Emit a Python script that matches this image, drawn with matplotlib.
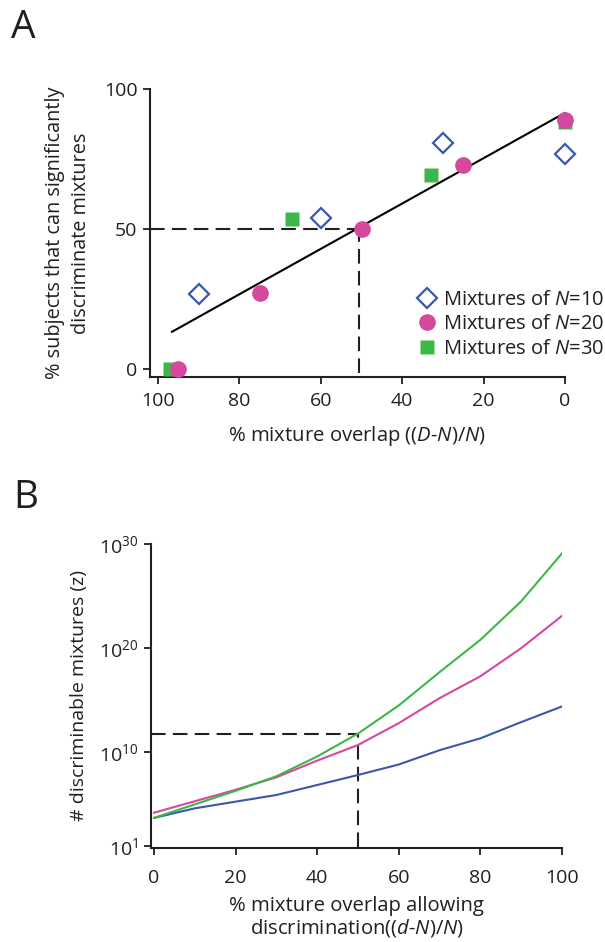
import numpy as np
import matplotlib
matplotlib.use("Agg")
import matplotlib.pyplot as plt
from matplotlib.ticker import FixedLocator, NullLocator

plt.rcParams['font.family'] = ['Open Sans', 'DejaVu Sans']
plt.rcParams['mathtext.fontset'] = 'custom'
plt.rcParams['mathtext.rm'] = 'Open Sans'
plt.rcParams['mathtext.it'] = 'Open Sans:italic'

# Panel A : % subjects discriminating vs % overlap
n10_x = [90, 60, 30, 0]
n10_y = [26.8, 53.9, 80.9, 76.9]
n20_x = [95, 75, 50, 25, 0]
n20_y = [0, 27.0, 50.0, 72.9, 88.9]
n30_x = [97, 67, 33, 0]
n30_y = [0, 53.5, 69.4, 88.4]
fit_x = [96.6, 0]
fit_y = [13.3, 91.6]
seuil_a = (50.7, 50)  # (overlap, % subjects)

# Panel B : log10 of number of discriminable mixtures
overlap = [0, 10, 20, 30, 40, 50, 60, 70, 80, 90, 100]
log_z_n10 = [3.7, 4.62, 5.26, 5.9, 6.86, 7.82, 8.83, 10.2, 11.34, 12.9, 14.4]
log_z_n20 = [4.2, 5.3, 6.4, 7.6, 9.2, 10.7, 12.8, 15.2, 17.3, 20.0, 23.1]
log_z_n30 = [3.7, 5.0, 6.3, 7.7, 9.6, 11.8, 14.5, 17.7, 20.8, 24.5, 29.1]
seuil_b = (50, 11.8)

bleu = '#3a57ab'
rose = '#d6479e'
vert = '#3db64a'
encre = '#231f20'

fig = plt.figure(figsize=(6.05, 9.42), dpi=100)

def style_axes(ax, xpad):
    for s in ['top', 'right']:
        ax.spines[s].set_visible(False)
    for s in ['left', 'bottom']:
        ax.spines[s].set_linewidth(1.5)
        ax.spines[s].set_color(encre)
    ax.tick_params(direction='out', length=5, width=1.3, labelsize=14,
                   colors=encre)
    ax.tick_params(axis='x', pad=xpad)
    ax.tick_params(axis='y', pad=4)

# ---- A ----
axA = fig.add_axes([0.2479, 0.6001, 0.6860, 0.3051])
style_axes(axA, 6)
axA.set_xlim(102, 0)
axA.set_ylim(-2.75, 100)
axA.set_xticks([100, 80, 60, 40, 20, 0])
axA.set_yticks([0, 50, 100])
axA.plot([102, seuil_a[0]], [seuil_a[1], seuil_a[1]], color=encre, lw=1.5,
         dashes=(7, 3.5))
axA.plot([seuil_a[0], seuil_a[0]], [-1.5, seuil_a[1]], color=encre, lw=1.5,
         dashes=(7, 3.5))
axA.plot(fit_x, fit_y, color='black', lw=1.5)
axA.plot(n30_x, n30_y, 's', color=vert, ms=9.5, mec='none', clip_on=False,
         label='Mixtures of $N$=30', zorder=3)
axA.plot(n20_x, n20_y, 'o', color=rose, ms=12, mec='none', clip_on=False,
         label='Mixtures of $N$=20', zorder=4)
axA.plot(n10_x, n10_y, 'D', mfc='white', mec=bleu, mew=1.6, ms=10,
         clip_on=False, label='Mixtures of $N$=10', zorder=5)
h, l = axA.get_legend_handles_labels()
axA.legend(h[::-1], l[::-1], loc='upper left',
           bbox_to_anchor=(416 / 605, 1 - 290 / 942),
           bbox_transform=fig.transFigure, frameon=False, fontsize=14.5,
           handletextpad=0.25, labelspacing=0.22, handlelength=1.1,
           borderaxespad=0, borderpad=0, labelcolor=encre)
axA.set_xlabel('% mixture overlap (($D$-$N$)/$N$)', fontsize=14.6, labelpad=10,
               color=encre)
axA.set_ylabel('% subjects that can significantly\ndiscriminate mixtures',
               fontsize=14.3, labelpad=9, linespacing=1.4, color=encre)
fig.text(0.018, 0.990, 'A', fontsize=28, va='top', ha='left', color=encre)

# ---- B ----
axB = fig.add_axes([0.2496, 0.0998, 0.6793, 0.3227])
style_axes(axB, 10)
axB.set_yscale('log')
axB.set_xlim(-0.75, 100)
axB.set_ylim(10 ** 0.81, 1e30)
axB.set_xticks([0, 20, 40, 60, 80, 100])
axB.yaxis.set_major_locator(FixedLocator([1e1, 1e10, 1e20, 1e30]))
axB.yaxis.set_minor_locator(NullLocator())
axB.set_yticklabels(['$10^{1}$', '$10^{10}$', '$10^{20}$', '$10^{30}$'])
axB.plot([-0.75, seuil_b[0]], [10 ** seuil_b[1]] * 2, color=encre, lw=1.5,
         dashes=(7, 3.5))
axB.plot([seuil_b[0]] * 2, [10 ** 0.9, 10 ** seuil_b[1]], color=encre, lw=1.5,
         dashes=(7, 3.5))
axB.plot(overlap, 10 ** np.array(log_z_n10), color=bleu, lw=1.5)
axB.plot(overlap, 10 ** np.array(log_z_n20), color=rose, lw=1.5)
axB.plot(overlap, 10 ** np.array(log_z_n30), color=vert, lw=1.5)
axB.set_xlabel('% mixture overlap allowing\ndiscrimination(($d$-$N$)/$N$)',
               fontsize=14.6, labelpad=6.5, linespacing=1.1, color=encre)
axB.set_ylabel('# discriminable mixtures (z)', fontsize=14, labelpad=8,
               color=encre)
fig.text(0.022, 0.492, 'B', fontsize=28, va='top', ha='left', color=encre)

fig.savefig('out.png', dpi=100)
plt.close(fig)
